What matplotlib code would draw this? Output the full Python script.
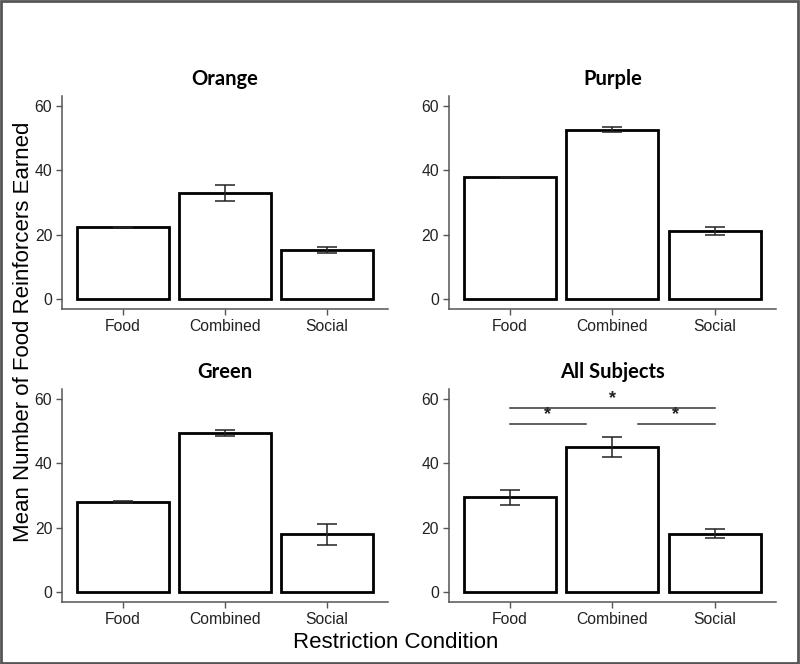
import matplotlib
matplotlib.use("Agg")
import matplotlib.pyplot as plt
from matplotlib.patches import Rectangle

conditions = ["Food", "Combined", "Social"]
panel_titles = ["Orange", "Purple", "Green", "All Subjects"]
means = [
    [22.3, 33.0, 15.2],
    [38.0, 52.6, 21.2],
    [28.0, 49.3, 18.0],
    [29.5, 45.0, 18.2],
]
errors = [
    [0.2, 2.5, 0.9],
    [0.0, 0.9, 1.3],
    [0.3, 0.9, 3.2],
    [2.3, 3.1, 1.5],
]
# significance brackets for the "All Subjects" panel: (x start, x end, y)
sig_lines = [(1, 3, 57.0), (1, 1.74, 52.1), (2.25, 3, 52.1)]
sig_stars = [(2, 57.3), (1.37, 52.4), (2.62, 52.4)]

plt.rcParams['font.family'] = ['Liberation Sans', 'DejaVu Sans']

fig = plt.figure(figsize=(8, 6.64), dpi=100)
fig.patches.append(Rectangle((0.001, 0.001), 0.997, 0.997, transform=fig.transFigure,
                             fill=False, edgecolor='#555555', linewidth=2))

positions = [
    [0.0775, 0.5346, 0.4075, 0.3208],
    [0.561, 0.5346, 0.409, 0.3208],
    [0.0775, 0.0934, 0.4075, 0.3208],
    [0.561, 0.0934, 0.409, 0.3208],
]
axis_grey = '#555555'
x = [1, 2, 3]

for i in range(4):
    ax = fig.add_axes(positions[i])
    ax.bar(x, means[i], width=0.9, color='white', edgecolor='black', linewidth=2, zorder=2)
    ax.errorbar(x, means[i], yerr=errors[i], fmt='none', ecolor='#222222',
                elinewidth=1.1, capsize=7.5, capthick=1.1, zorder=3)
    ax.set_xlim(0.4, 3.6)
    ax.set_ylim(-3, 63)
    ax.set_yticks([0, 20, 40, 60])
    ax.set_xticks(x)
    ax.set_xticklabels(conditions)
    for side in ['top', 'right']:
        ax.spines[side].set_visible(False)
    for side in ['left', 'bottom']:
        ax.spines[side].set_color(axis_grey)
        ax.spines[side].set_linewidth(1.1)
    ax.tick_params(axis='both', colors=axis_grey, labelcolor='#222222', labelsize=11.3,
                   length=4, width=1.0, pad=3)
    ax.set_title(panel_titles[i], family=['Lato', 'DejaVu Sans'], fontweight='bold',
                 fontsize=14.5, pad=8)
    if i == 3:
        for x0, x1, y in sig_lines:
            ax.plot([x0, x1], [y, y], color='#333333', linewidth=1.1)
        for sx, sy in sig_stars:
            ax.text(sx, sy, '*', ha='center', va='bottom', fontsize=13,
                    fontweight='bold', color='#222222')

fig.text(0.03, 0.5, 'Mean Number of Food Reinforcers Earned', rotation=90,
         ha='center', va='center', fontsize=16)
fig.text(0.494, 0.032, 'Restriction Condition', ha='center', va='center', fontsize=16)

fig.savefig('out.png', dpi=100)
